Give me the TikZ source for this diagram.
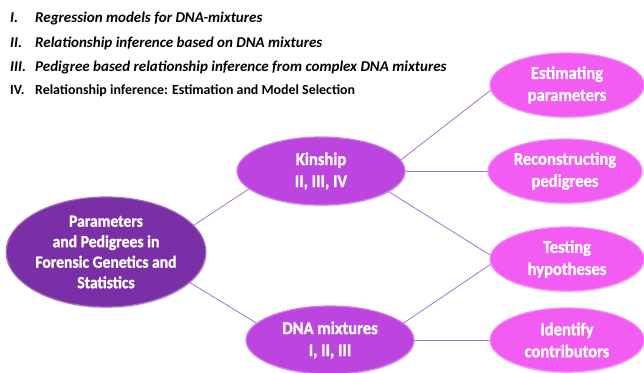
\documentclass[tikz,border=0pt]{standalone}
\usepackage{fontspec}
\setmainfont{Carlito}
\newfontfamily\bubblefont[FakeStretch=0.92, BoldFeatures={FakeBold=1.3}]{Carlito}
\usetikzlibrary{shapes.geometric,shadows}

\definecolor{rootpurple}{HTML}{7A2FA6}
\definecolor{midpurple}{HTML}{BC45E0}
\definecolor{leafpink}{HTML}{F25CF2}
\definecolor{linkpurple}{HTML}{A372CC}

\tikzset{
  bubble/.style={ellipse, inner sep=0pt, align=center, text=white,
    line width=1.2pt, drop shadow={opacity=0.25, shadow xshift=0.8pt, shadow yshift=-1.5pt}},
  rootbubble/.style={bubble, fill=rootpurple, draw=rootpurple!70!white,
    minimum width=196pt, minimum height=110pt, font=\bubblefont\bfseries\fontsize{17}{20.5}\selectfont},
  midbubble/.style={bubble, fill=midpurple, draw=midpurple!70!white,
    minimum width=168pt, minimum height=68pt, font=\bubblefont\bfseries\fontsize{18}{22}\selectfont},
  leafbubble/.style={bubble, fill=leafpink, draw=leafpink!70!white,
    minimum width=154pt, minimum height=64pt, font=\bubblefont\bfseries\fontsize{18}{22}\selectfont},
  link/.style={draw=linkpurple, line width=0.8pt},
  listnum/.style={anchor=base west, inner sep=0pt, font=\bfseries\itshape\fontsize{15}{17}\selectfont},
  listtext/.style={anchor=base west, inner sep=0pt, font=\bfseries\itshape\fontsize{15}{17}\selectfont},
  listplain/.style={anchor=base west, inner sep=0pt, font=\bfseries\fontsize{13.9}{16}\selectfont}
}

\begin{document}
\begin{tikzpicture}[x=1pt,y=-1pt]
    \useasboundingbox (0,0) rectangle (644,372);

    % list of papers
    \node[listnum] (n1) at (10,22) {I.};
    \node[listtext] (p1) at (35,22) {Regression models for DNA-mixtures};
    \node[listnum] (n2) at (10,47) {II.};
    \node[listtext] (p2) at (35,47) {Relationship inference based on DNA mixtures};
    \node[listnum] (n3) at (10,71) {III.};
    \node[listtext] (p3) at (35,71) {Pedigree based relationship inference from complex DNA mixtures};
    \node[listplain] (n4) at (10,94) {IV.};
    \node[listplain] (p4) at (35,94) {Relationship inference: Estimation and Model Selection};

    % bubbles
    \node[rootbubble] (root) at (106,252) {Parameters\\and Pedigrees in\\Forensic Genetics and\\Statistics};
    \node[midbubble] (kinship) at (321,171) {Kinship\\II, III, IV};
    \node[midbubble] (mixtures) at (330,340) {DNA mixtures\\I, II, III};
    \node[leafbubble] (estimating) at (567,85) {Estimating\\parameters};
    \node[leafbubble] (reconstructing) at (565,171) {Reconstructing\\pedigrees};
    \node[leafbubble] (testing) at (567,259) {Testing\\hypotheses};
    \node[leafbubble] (identify) at (567,340) {Identify\\contributors};

    % links
    \draw[link] (root.17) -- (kinship.194);
    \draw[link] (root.340) -- (mixtures.167);
    \draw[link] (kinship.8) -- (estimating.184);
    \draw[link] (kinship.0) -- (reconstructing.180);
    \draw[link] (kinship.343) -- (testing.177);
    \draw[link] (mixtures.13) -- (testing.184);
    \draw[link] (mixtures.0) -- (identify.180);
\end{tikzpicture}
\end{document}
